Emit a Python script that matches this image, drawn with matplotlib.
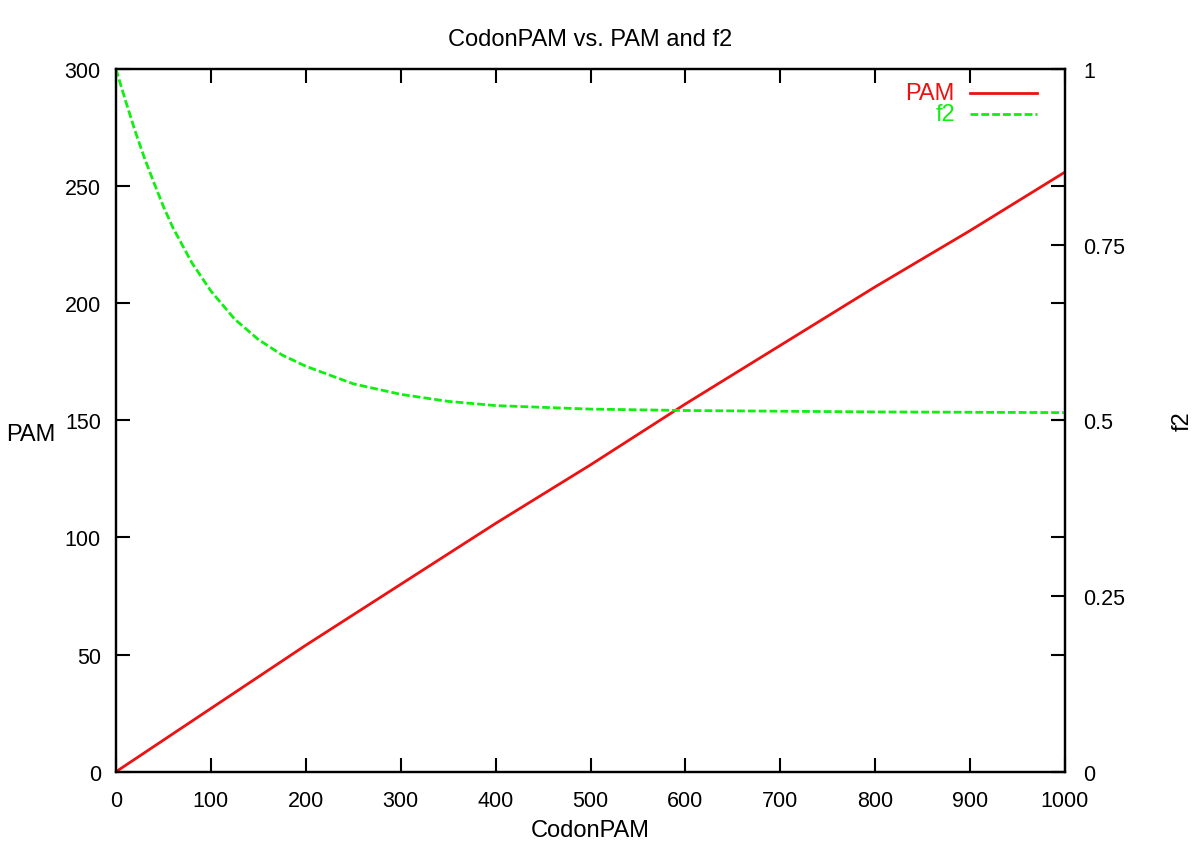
import matplotlib
matplotlib.use('Agg')
import matplotlib.pyplot as plt
import numpy as np

# values
codon_pam = [0, 100, 200, 300, 400, 500, 600, 700, 800, 900, 1000]
pam = [0, 27, 54, 80, 106, 131, 157, 182, 207, 231, 256]

f2_x = [0, 5, 10, 20, 30, 40, 50, 60, 80, 100, 125, 150, 175, 200, 250, 300,
        350, 400, 500, 600, 700, 800, 900, 1000]
f2_y = [1.0, 0.977, 0.955, 0.912, 0.873, 0.838, 0.804, 0.774, 0.724, 0.684,
        0.644, 0.615, 0.593, 0.577, 0.552, 0.537, 0.527, 0.521, 0.516,
        0.514, 0.513, 0.512, 0.5115, 0.511]

red = '#ee1111'
green = '#11ee11'

plt.rcParams['font.family'] = ['Liberation Sans', 'DejaVu Sans']

fig = plt.figure(figsize=(12, 8.62), dpi=100)
ax = fig.add_axes([0.0967, 0.1036, 0.7908, 0.8152])
ax2 = ax.twinx()

ax.plot(codon_pam, pam, color=red, lw=2)
ax2.plot(f2_x, f2_y, color=green, lw=2, dashes=(2.8, 1.1))

ax.set_xlim(0, 1000)
ax.set_ylim(0, 300)
ax2.set_ylim(0, 1)
ax.set_xticks(np.arange(0, 1001, 100))
ax.set_yticks(np.arange(0, 301, 50))
ax2.set_yticks([0, 0.25, 0.5, 0.75, 1])
ax2.set_yticklabels(['0', '0.25', '0.5', '0.75', '1'])

ax.tick_params(direction='in', length=10, width=1.5, top=True, right=True,
               labelsize=15.5)
ax.tick_params(axis='y', pad=11)
ax.tick_params(axis='x', pad=13)
ax2.tick_params(direction='in', length=10, width=1.5, pad=13, labelsize=15.5)
for a in (ax, ax2):
    for s in a.spines.values():
        s.set_linewidth(1.6)

ax.set_xlabel('CodonPAM', fontsize=17)
ax.xaxis.set_label_coords(0.5, -0.068)
ax.set_ylabel('PAM', fontsize=17, rotation=0, ha='center', va='center')
ax.yaxis.set_label_coords(-0.09, 0.48)
ax2.set_ylabel('f2', fontsize=17, rotation=90, va='center')
ax2.yaxis.set_label_coords(1.124, 0.5)
ax.set_title('CodonPAM vs. PAM and f2', fontsize=17, pad=17)

# key, top right, text right aligned
ax.text(0.884, 0.966, 'PAM', color=red, ha='right', va='center',
        transform=ax.transAxes, fontsize=17)
ax.plot([0.9, 0.9705], [0.966, 0.966], color=red, lw=2,
        transform=ax.transAxes, clip_on=False)
ax.text(0.884, 0.936, 'f2', color=green, ha='right', va='center',
        transform=ax.transAxes, fontsize=17)
ax.plot([0.9, 0.9705], [0.936, 0.936], color=green, lw=2,
        dashes=(2.8, 1.1), transform=ax.transAxes, clip_on=False)

fig.savefig('out.png', dpi=100)
